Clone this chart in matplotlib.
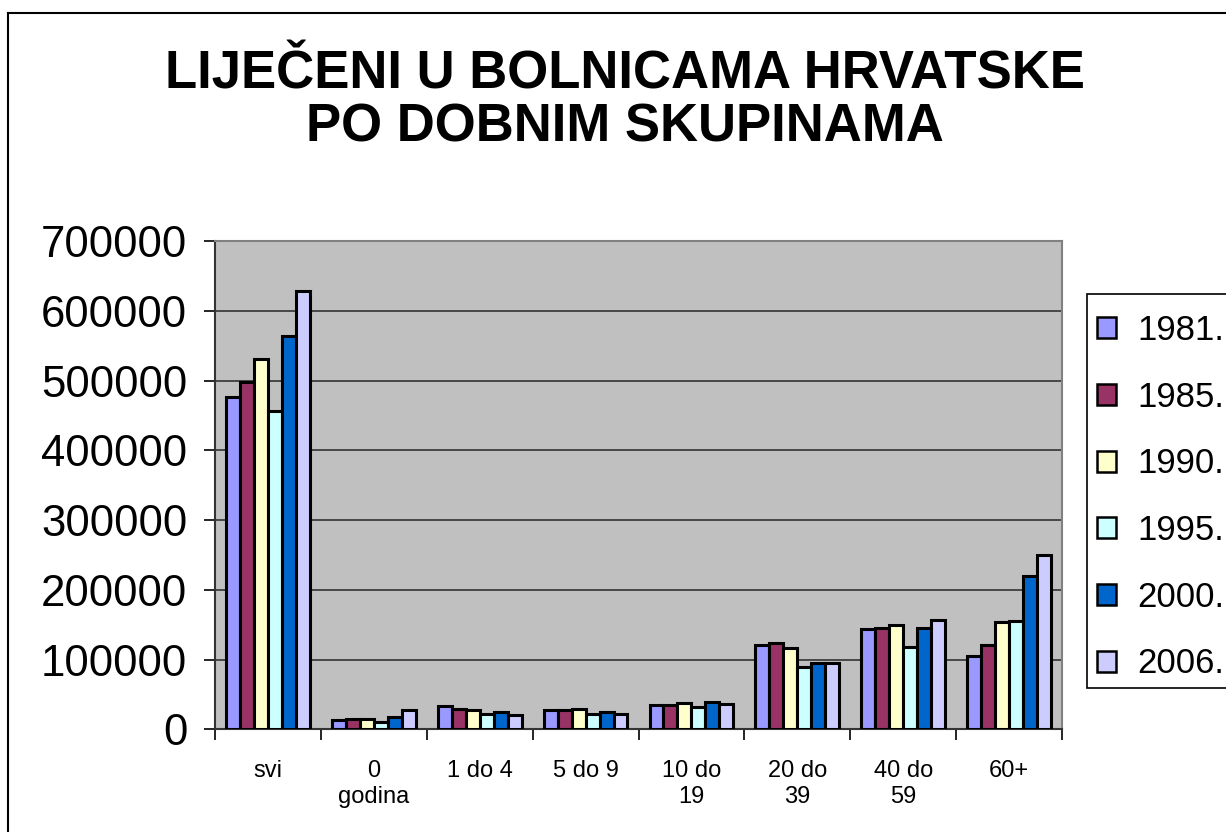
import matplotlib.pyplot as plt
import numpy as np
from matplotlib.lines import Line2D
from matplotlib.patches import Rectangle

plt.rcParams['font.family'] = ['Liberation Sans', 'DejaVu Sans']

# age groups and years
categories = ['svi', '0\ngodina', '1 do 4', '5 do 9', '10 do\n19', '20 do\n39', '40 do\n59', '60+']
years = ['1981.', '1985.', '1990.', '1995.', '2000.', '2006.']
colors = ['#9999FF', '#993366', '#FFFFCC', '#CCFFFF', '#0066CC', '#CCCCFF']

# patients treated, one list per year
v1981 = [477000, 13300, 33300, 27100, 35400, 120600, 143500, 105300]
v1985 = [498000, 14300, 29000, 27600, 34900, 123400, 145900, 121100]
v1990 = [531000, 14300, 28100, 29500, 37300, 116700, 149300, 154100]
v1995 = [456000, 11000, 21900, 21400, 31600, 89000, 117700, 155500]
v2000 = [564000, 17100, 25200, 24300, 38800, 95700, 145500, 219500]
v2006 = [629000, 27600, 20500, 22400, 36800, 95200, 157400, 250000]
series = [v1981, v1985, v1990, v1995, v2000, v2006]

W, H = 1226, 832
fig = plt.figure(figsize=(W / 100, H / 100), dpi=100)
ax = fig.add_axes([0.1754, 0.1234, 0.6908, 0.5869])
ax.set_facecolor('#C0C0C0')

x = np.arange(len(categories))
w = 0.132
for i, (vals, yr, c) in enumerate(zip(series, years, colors)):
    ax.bar(x + (i - 2.5) * w, vals, width=w, color=c, edgecolor='black',
           linewidth=2.2, label=yr, zorder=3)

ax.set_xlim(-0.5, len(categories) - 0.5)
ax.set_ylim(0, 700000)
ax.set_yticks(np.arange(0, 700001, 100000))
ax.set_yticklabels([str(v) for v in range(0, 700001, 100000)], fontsize=31.5)
ax.yaxis.grid(True, color='#333333', linewidth=1.2, zorder=0)
ax.set_axisbelow(True)

# category labels between ticks, ticks at group boundaries
ax.set_xticks(np.arange(-0.5, len(categories), 1.0))
ax.set_xticklabels([])
ax.set_xticks(x, minor=True)
ax.set_xticklabels(categories, minor=True, fontsize=17, va='top', linespacing=1.25)
ax.tick_params(axis='x', which='minor', length=0, pad=22)
ax.tick_params(axis='x', which='major', length=8, width=1.2)
ax.tick_params(axis='y', length=8, width=1.2, pad=12)

for s in ['left', 'bottom']:
    ax.spines[s].set_color('#333333')
    ax.spines[s].set_linewidth(1.5)
for s in ['top', 'right']:
    ax.spines[s].set_color('#808080')
    ax.spines[s].set_linewidth(1.5)

fig.text(0.51, 1 - 101 / H, 'LIJEČENI U BOLNICAMA HRVATSKE\nPO DOBNIM SKUPINAMA',
         ha='center', va='center', fontsize=38, fontweight='bold', linespacing=1.1)

# legend box drawn separately, runs off the right edge
fig.add_artist(Rectangle((1087 / W, 1 - 688 / H), 200 / W, 394 / H, transform=fig.transFigure,
                         facecolor='white', edgecolor='black', linewidth=1.2, zorder=1))
leg = fig.legend(loc='upper left', bbox_to_anchor=(1097 / W, 1 - 314 / H),
                 fontsize=25, frameon=False,
                 handlelength=0.55, handleheight=0.55, handletextpad=0.6,
                 labelspacing=0.97, borderpad=0, borderaxespad=0)
leg.set_zorder(2)
for h in leg.legend_handles:
    h.set_linewidth(1.8)

# outer frame of the chart
fig.add_artist(Line2D([8 / W, 8 / W], [0, 1 - 13 / H], color='black', linewidth=1.5))
fig.add_artist(Line2D([8 / W, 1], [1 - 13 / H, 1 - 13 / H], color='black', linewidth=1.5))

fig.savefig('out.png', dpi=100)
